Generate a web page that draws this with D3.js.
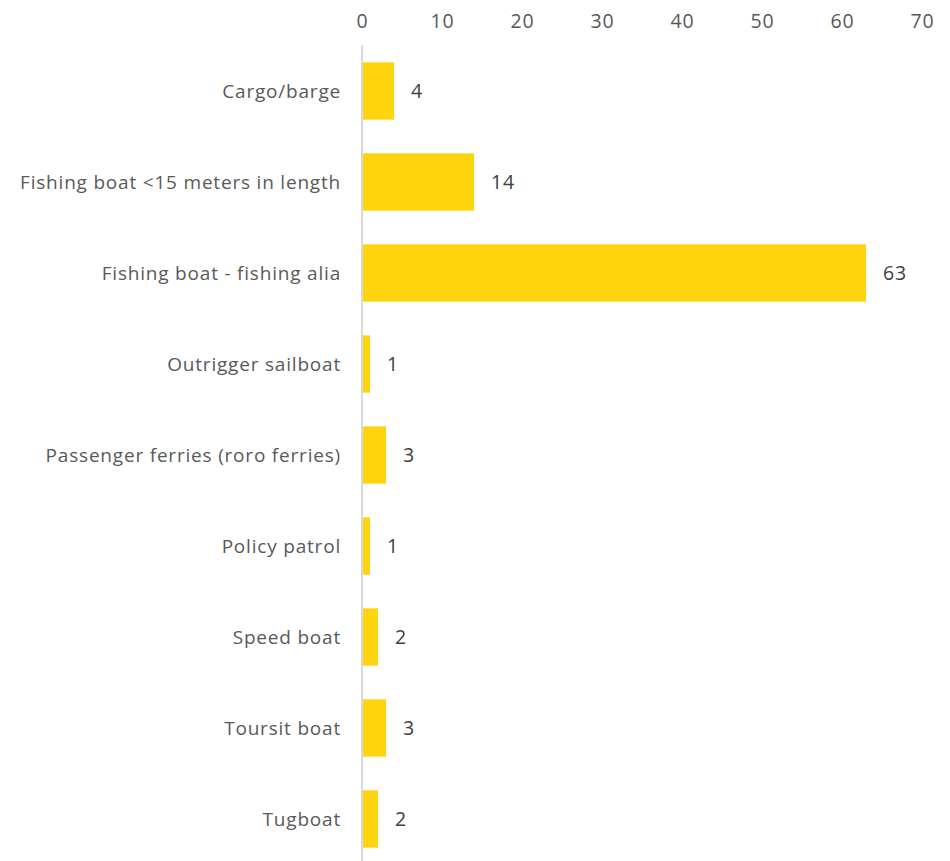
<!DOCTYPE html>
<html>
<head>
<meta charset="utf-8">
<script src="https://cdn.jsdelivr.net/npm/d3@7/dist/d3.min.js"></script>
<style>
  html, body { margin: 0; padding: 0; background: #ffffff; }
  svg { display: block; }
  text { font-family: "Century Gothic", "Open Sans", "Noto Sans", sans-serif; }
</style>
</head>
<body>
<svg id="chart" width="950" height="861"></svg>
<script>
// Vessel types and counts
const categories = [
  "Cargo/barge",
  "Fishing boat <15 meters in length",
  "Fishing boat - fishing alia",
  "Outrigger sailboat",
  "Passenger ferries (roro ferries)",
  "Policy patrol",
  "Speed boat",
  "Toursit boat",
  "Tugboat"
];
const counts = [4, 14, 63, 1, 3, 1, 2, 3, 2];
const tickValues = [0, 10, 20, 30, 40, 50, 60, 70];

const data = categories.map((c, i) => ({ category: c, value: counts[i] }));

const svg = d3.select("#chart");

const x = d3.scaleLinear().domain([0, 70]).range([362, 922]);
const y = d3.scaleBand()
  .domain(categories)
  .range([45.5, 864.5])
  .paddingInner(0.37)
  .paddingOuter(0.185);

// Top value axis: labels only
const xAxis = svg.append("g")
  .attr("transform", "translate(0,36)")
  .call(d3.axisTop(x).tickValues(tickValues).tickSize(0).tickPadding(8));
xAxis.select(".domain").remove();
xAxis.selectAll("text")
  .attr("fill", "#595959")
  .style("font-size", "19.5px")
  .style("letter-spacing", "0.8px");

// Bars
svg.append("g").selectAll("rect")
  .data(data)
  .join("rect")
  .attr("x", x(0))
  .attr("y", d => y(d.category))
  .attr("width", d => x(d.value) - x(0))
  .attr("height", y.bandwidth())
  .attr("fill", "#FFD30D");

// Category axis line
svg.append("line")
  .attr("x1", x(0)).attr("x2", x(0))
  .attr("y1", 45).attr("y2", 861)
  .attr("stroke", "#d9d9d9")
  .attr("stroke-width", 2);

// Category labels
svg.append("g").selectAll("text")
  .data(data)
  .join("text")
  .attr("x", x(0) - 21)
  .attr("y", d => y(d.category) + y.bandwidth() / 2)
  .attr("dy", "0.35em")
  .attr("text-anchor", "end")
  .attr("fill", "#595959")
  .style("font-size", "19px")
  .style("letter-spacing", "0.8px")
  .text(d => d.category);

// Value labels
svg.append("g").selectAll("text")
  .data(data)
  .join("text")
  .attr("x", d => x(d.value) + 17)
  .attr("y", d => y(d.category) + y.bandwidth() / 2)
  .attr("dy", "0.35em")
  .attr("fill", "#404040")
  .style("font-size", "19.5px")
  .style("letter-spacing", "0.8px")
  .text(d => d.value);
</script>
</body>
</html>
